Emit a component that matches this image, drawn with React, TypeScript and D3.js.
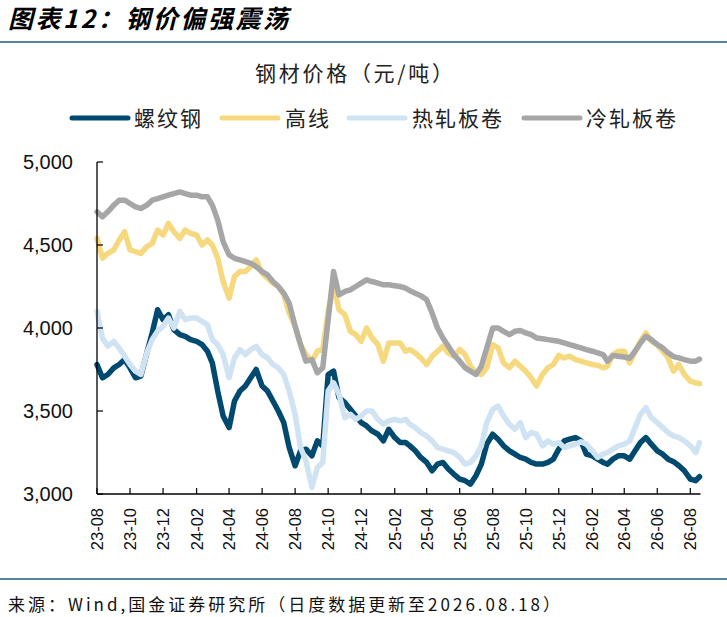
import React from 'react';
import * as d3 from 'd3';

const W = 727;
const H = 617;

// Observation dates: 1st, 11th, 21st of each month, 2023-08 .. 2026-08 (last = 2026-08-18)
const startYear = 2023;
const startMonth = 7; // August (0-based)
const monthCount = 37;
const dayMarks = [1, 11, 21];
const lastDay = 18;

const dates: Date[] = [];
for (let i = 0; i < monthCount; i++) {
  const yr = startYear + Math.floor((startMonth + i) / 12);
  const mo = (startMonth + i) % 12;
  dayMarks.forEach((d, k) => {
    dates.push(new Date(yr, mo, i === monthCount - 1 && k === 2 ? lastDay : d));
  });
}

const seriesNames = ['螺纹钢', '高线', '热轧板卷', '冷轧板卷'];
const seriesColors = ['#004a70', '#f6d97e', '#d0e3f3', '#a6a6a6'];

// 螺纹钢
const rebar = [
  // 2023 08-12
  3780, 3700, 3720, 3760, 3780, 3810, 3760, 3700, 3710, 3850, 3970, 4110, 4050, 4080, 3990,
  // 2024
  3960, 3950, 3930, 3920, 3900, 3860, 3790, 3620, 3470, 3400, 3560, 3620,
  3650, 3700, 3750, 3650, 3620, 3560, 3500, 3430, 3280, 3170, 3260, 3270,
  3230, 3320, 3290, 3720, 3740, 3580, 3550, 3510, 3470, 3430, 3410, 3380,
  // 2025
  3360, 3320, 3390, 3340, 3310, 3310, 3290, 3260, 3220, 3190, 3140, 3180,
  3190, 3150, 3120, 3090, 3080, 3060, 3110, 3180, 3300, 3360, 3330, 3290,
  3260, 3240, 3220, 3210, 3190, 3180, 3180, 3190, 3210, 3270, 3320, 3330,
  // 2026 01-08
  3340, 3320, 3240, 3230, 3210, 3190, 3180, 3210, 3230, 3230, 3210, 3260,
  3310, 3340, 3300, 3260, 3240, 3210, 3195, 3170, 3140, 3090, 3080, 3104,
];

// 高线
const wireRod = [
  4540, 4420, 4450, 4470, 4530, 4580, 4470, 4460, 4450, 4490, 4510, 4590, 4560, 4630, 4580,
  4540, 4590, 4570, 4560, 4500, 4530, 4500, 4420, 4280, 4180, 4310, 4340,
  4340, 4370, 4410, 4330, 4300, 4270, 4250, 4200, 4090, 4010, 3900, 3840,
  3800, 3860, 3870, 4100, 4260, 4110, 4080, 3980, 3960, 3920, 4000, 3940,
  3900, 3800, 3910, 3910, 3910, 3860, 3870, 3850, 3820, 3780, 3830, 3860,
  3890, 3850, 3830, 3870, 3840, 3770, 3730, 3720, 3760, 3900, 3880, 3790,
  3760, 3800, 3770, 3740, 3700, 3650, 3720, 3760, 3780, 3835, 3820, 3830,
  3810, 3800, 3790, 3780, 3775, 3760, 3770, 3840, 3860, 3860, 3790, 3860,
  3920, 3970, 3920, 3900, 3860, 3820, 3740, 3780, 3720, 3680, 3670, 3665,
];

// 热轧板卷
const hotRolled = [
  4100, 3940, 3890, 3920, 3880, 3830, 3780, 3740, 3720, 3850, 3930, 3980, 4010, 4060, 4000,
  4100, 4050, 4060, 4060, 4040, 4020, 3930, 3900, 3840, 3700, 3820, 3870,
  3840, 3870, 3890, 3840, 3820, 3780, 3760, 3720, 3620, 3480, 3280, 3200,
  3040, 3160, 3190, 3620, 3670, 3600, 3460, 3480, 3450, 3470, 3500, 3500,
  3450, 3420, 3440, 3450, 3440, 3450, 3420, 3400, 3370, 3350, 3320, 3280,
  3270, 3260, 3250, 3220, 3180, 3190, 3230, 3290, 3430, 3510, 3530, 3470,
  3420, 3390, 3430, 3340, 3370, 3360, 3290, 3320, 3300, 3310, 3280, 3290,
  3300, 3315, 3300, 3260, 3220, 3240, 3250, 3270, 3290, 3300, 3320, 3400,
  3480, 3520, 3460, 3430, 3400, 3370, 3350, 3340, 3320, 3290, 3250, 3310,
];

// 冷轧板卷
const coldRolled = [
  4700, 4670, 4700, 4740, 4770, 4770, 4750, 4730, 4720, 4740, 4770, 4780, 4790, 4800, 4810,
  4820, 4810, 4800, 4800, 4790, 4790, 4740, 4650, 4520, 4440, 4420, 4410,
  4400, 4390, 4370, 4340, 4320, 4280, 4250, 4210, 4150, 4010, 3900, 3800,
  3810, 3730, 3760, 4050, 4340, 4200, 4220, 4230, 4250, 4270, 4290, 4280,
  4270, 4260, 4260, 4255, 4250, 4240, 4225, 4210, 4195, 4170, 4090, 4000,
  3940, 3890, 3840, 3800, 3760, 3740, 3720, 3770, 3880, 4000, 4000, 3980,
  3960, 3980, 3985, 3970, 3960, 3940, 3935, 3930, 3925, 3920, 3910, 3900,
  3890, 3880, 3870, 3860, 3850, 3840, 3800, 3835, 3830, 3825, 3818, 3860,
  3910, 3950, 3930, 3900, 3880, 3850, 3828, 3820, 3810, 3800, 3800, 3813,
];

const allSeries = [rebar, wireRod, hotRolled, coldRolled];

const yTicks = [3000, 3500, 4000, 4500, 5000];

const plotLeft = 97;
const plotRight = 699.5;
const plotTop = 162;
const plotBottom = 494;

export default function App() {
  const x = d3
    .scaleTime()
    .domain([dates[0], dates[dates.length - 1]])
    .range([plotLeft, plotRight]);
  const y = d3.scaleLinear().domain([3000, 5000]).range([plotBottom, plotTop]);

  const xTicks = d3.timeMonth.range(new Date(2023, 7, 1), new Date(2026, 7, 2), 2);
  const fmtX = d3.timeFormat('%y-%m');
  const fmtY = d3.format(',');

  const line = d3
    .line<number>()
    .x((_, i) => x(dates[i]))
    .y((d) => y(d));

  const legendItems = [
    { lx: 72, tx: 134 },
    { lx: 222, tx: 285 },
    { lx: 349, tx: 412 },
    { lx: 524, tx: 586 },
  ];

  const cjk = '"Noto Sans CJK SC", "Noto Sans", sans-serif';
  const latin = '"Liberation Sans", Arial, sans-serif';

  return (
    <div style={{ position: 'fixed', left: 0, top: 0, width: W, height: H, background: '#fff' }}>
      <svg width={W} height={H} viewBox={`0 0 ${W} ${H}`}>
        <rect x={0} y={0} width={W} height={H} fill="#fff" />
        <text
          x={8}
          y={28}
          fontFamily={cjk}
          fontSize={25}
          fontWeight="bold"
          fontStyle="italic"
          fill="#000"
          textLength={280}
          lengthAdjust="spacing"
        >
          图表12：钢价偏强震荡
        </text>
        <line x1={0} x2={W} y1={42} y2={42} stroke="#1d5b7b" strokeWidth={1.5} />

        <text
          x={255}
          y={81}
          fontFamily={cjk}
          fontSize={21}
          fill="#222"
          textLength={198}
          lengthAdjust="spacing"
        >
          钢材价格（元/吨）
        </text>

        {seriesNames.map((name, i) => (
          <g key={name}>
            <line
              x1={legendItems[i].lx}
              x2={legendItems[i].lx + 56}
              y1={118}
              y2={118}
              stroke={seriesColors[i]}
              strokeWidth={5}
              strokeLinecap="round"
            />
            <text
              x={legendItems[i].tx}
              y={125.5}
              fontFamily={cjk}
              fontSize={21}
              letterSpacing={2}
              fill="#222"
            >
              {name}
            </text>
          </g>
        ))}

        {allSeries.map((s, i) => (
          <path
            key={seriesNames[i]}
            d={line(s) || ''}
            fill="none"
            stroke={seriesColors[i]}
            strokeWidth={5.5}
            strokeLinejoin="round"
            strokeLinecap="round"
          />
        ))}

        {/* axes */}
        <line x1={plotLeft} x2={plotLeft} y1={plotTop} y2={plotBottom} stroke="#000" strokeWidth={1.3} />
        <line x1={plotLeft} x2={plotRight + 1} y1={plotBottom} y2={plotBottom} stroke="#000" strokeWidth={1.3} />
        {yTicks.map((t) => (
          <g key={t}>
            <line x1={plotLeft} x2={plotLeft + 6} y1={y(t)} y2={y(t)} stroke="#000" strokeWidth={1.2} />
            <text
              x={73}
              y={y(t)}
              dy="0.36em"
              textAnchor="end"
              fontFamily={latin}
              fontSize={20}
              fill="#111"
            >
              {fmtY(t)}
            </text>
          </g>
        ))}
        {xTicks.map((t) => (
          <g key={t.getTime()}>
            <line x1={x(t)} x2={x(t)} y1={plotBottom} y2={plotBottom - 6} stroke="#000" strokeWidth={1.2} />
            <text
              transform={`translate(${x(t)},${plotBottom + 14}) rotate(-90)`}
              dy="0.36em"
              textAnchor="end"
              fontFamily={latin}
              fontSize={16.5}
              fill="#111"
            >
              {fmtX(t)}
            </text>
          </g>
        ))}

        <line x1={0} x2={W} y1={579} y2={579} stroke="#1d5b7b" strokeWidth={1.5} />
        <text
          x={8}
          y={611}
          fontFamily={cjk}
          fontSize={17}
          fill="#111"
          textLength={552}
          lengthAdjust="spacing"
        >
          来源：Wind,国金证券研究所（日度数据更新至2026.08.18）
        </text>
      </svg>
    </div>
  );
}
